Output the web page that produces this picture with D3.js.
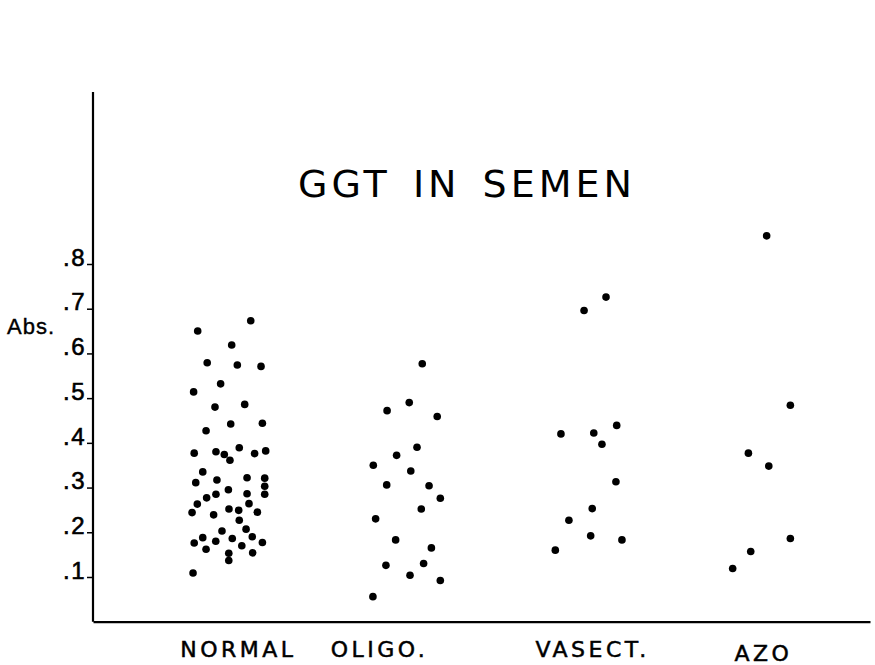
<!DOCTYPE html>
<html>
<head>
<meta charset="utf-8">
<script src="https://cdn.jsdelivr.net/npm/d3@7"></script>
<style>
  html, body { margin: 0; padding: 0; background: #fff; }
  svg { display: block; }
</style>
</head>
<body>
<svg id="chart" width="875" height="665"></svg>
<script>
// ---------------- data ----------------
const title = "GGT IN SEMEN";
const yLabel = "Abs.";
const categories = ["NORMAL", "OLIGO.", "VASECT.", "AZO"];
// category label positions on the (continuous) category axis
const categoryPos = [0.746, 1.472, 2.569, 3.449];
const yTickValues = [0.1, 0.2, 0.3, 0.4, 0.5, 0.6, 0.7, 0.8];
const yTickLabels = [".1", ".2", ".3", ".4", ".5", ".6", ".7", ".8"];

// each point: [position on category axis (category + jitter), absorbance]
const normal = [
  [0.812,0.673],[0.539,0.650],[0.714,0.619],[0.588,0.579],[0.743,0.574],[0.865,0.571],
  [0.657,0.532],[0.518,0.514],[0.628,0.480],[0.781,0.486],[0.709,0.442],[0.872,0.444],
  [0.582,0.427],[0.521,0.377],[0.633,0.380],[0.676,0.374],[0.705,0.361],[0.753,0.389],
  [0.832,0.376],[0.889,0.382],[0.565,0.335],[0.529,0.311],[0.638,0.317],[0.793,0.322],
  [0.884,0.321],[0.884,0.303],[0.884,0.285],[0.697,0.295],[0.633,0.285],[0.793,0.286],
  [0.585,0.277],[0.537,0.263],[0.803,0.264],[0.510,0.244],[0.621,0.239],[0.700,0.252],
  [0.750,0.249],[0.846,0.245],[0.753,0.227],[0.664,0.203],[0.788,0.207],[0.565,0.188],
  [0.521,0.176],[0.632,0.180],[0.717,0.186],[0.820,0.190],[0.872,0.177],[0.582,0.162],
  [0.766,0.170],[0.699,0.153],[0.822,0.154],[0.699,0.137],[0.515,0.109]
];
const oligo = [
  [1.695,0.577],[1.628,0.490],[1.514,0.472],[1.772,0.459],[1.668,0.390],[1.563,0.372],
  [1.443,0.350],[1.636,0.337],[1.512,0.306],[1.730,0.304],[1.788,0.276],[1.690,0.252],
  [1.455,0.230],[1.558,0.183],[1.742,0.165],[1.508,0.126],[1.702,0.130],[1.632,0.104],
  [1.788,0.092],[1.441,0.056]
];
const vasect = [
  [2.641,0.726],[2.528,0.696],[2.696,0.439],[2.409,0.420],[2.578,0.422],[2.620,0.397],
  [2.692,0.313],[2.570,0.253],[2.450,0.227],[2.562,0.192],[2.723,0.183],[2.380,0.160]
];
const azo = [
  [3.468,0.863],[3.590,0.484],[3.374,0.377],[3.479,0.348],[3.590,0.186],[3.386,0.157],
  [3.293,0.119]
];
const series = [normal, oligo, vasect, azo];

// ---------------- drawing ----------------
const svg = d3.select("#chart");
const mLeft = 93, mRight = 870, mBottom = 621.7, mTop = 92;

const x = d3.scaleLinear().domain([0, 4]).range([mLeft, mRight]);
const y = d3.scaleLinear().domain([0, 0.8]).range([mBottom, 264]);

// y axis
const yAxis = d3.axisLeft(y)
  .tickValues(yTickValues)
  .tickFormat((d, i) => yTickLabels[i])
  .tickSize(6)
  .tickSizeOuter(0)
  .tickPadding(1);
const gy = svg.append("g").attr("transform", `translate(${mLeft},0)`).call(yAxis);
gy.select(".domain").remove();
gy.append("line")
  .attr("x1", 0).attr("x2", 0)
  .attr("y1", mBottom).attr("y2", mTop)
  .attr("stroke", "#000").attr("stroke-width", 2.2);
gy.selectAll(".tick line").attr("stroke", "#000").attr("stroke-width", 1.5);
gy.selectAll(".tick text")
  .attr("dy", "0.05em")
  .attr("fill", "#000")
  .attr("stroke", "#000")
  .attr("stroke-width", 0.6)
  .style("font-family", "'Liberation Sans', Arial, sans-serif")
  .style("font-size", "24px")
  .style("letter-spacing", "1.5px");

// x axis (baseline with category labels)
const xAxis = d3.axisBottom(x)
  .tickValues(categoryPos)
  .tickFormat((d, i) => categories[i])
  .tickSize(0)
  .tickSizeOuter(0)
  .tickPadding(20);
const gx = svg.append("g").attr("transform", `translate(0,${mBottom})`).call(xAxis);
gx.select(".domain").attr("stroke", "#000").attr("stroke-width", 2.2);
gx.selectAll(".tick text")
  .attr("fill", "#000")
  .attr("stroke", "#000")
  .attr("stroke-width", 0.5)
  .attr("dy", (d, i) => i === 3 ? "0.9em" : "0.71em")
  .style("font-family", "'DejaVu Sans', sans-serif")
  .style("font-size", "22px")
  .style("letter-spacing", "3.5px");

// points
svg.append("g").selectAll("g")
  .data(series)
  .join("g")
  .selectAll("circle")
  .data(d => d)
  .join("circle")
  .attr("cx", d => x(d[0]))
  .attr("cy", d => y(d[1]))
  .attr("r", 3.8)
  .attr("fill", "#000");

// title
svg.append("text")
  .attr("x", 467)
  .attr("y", 197)
  .attr("text-anchor", "middle")
  .style("font-family", "'DejaVu Sans', sans-serif")
  .style("font-size", "38px")
  .style("letter-spacing", "4px")
  .style("word-spacing", "6px")
  .text(title);

// y label
svg.append("text")
  .attr("x", 7)
  .attr("y", 334)
  .attr("stroke", "#000")
  .attr("stroke-width", 0.4)
  .style("font-family", "'Liberation Sans', Arial, sans-serif")
  .style("font-size", "22px")
  .style("letter-spacing", "1px")
  .text(yLabel);
</script>
</body>
</html>
